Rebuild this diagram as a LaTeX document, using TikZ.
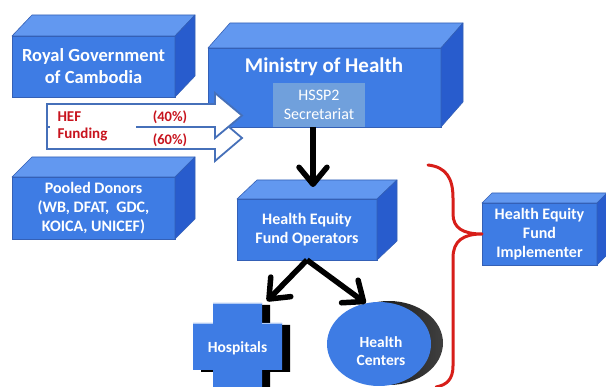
\documentclass[tikz,border=0pt]{standalone}
\usepackage{fontspec}
\setmainfont{Carlito}
\usetikzlibrary{arrows.meta,shapes.geometric,calc}

\definecolor{facefront}{RGB}{62,124,228}
\definecolor{facetop}{RGB}{98,152,240}
\definecolor{faceside}{RGB}{40,92,205}
\definecolor{faceedge}{RGB}{52,96,182}
\definecolor{panelblue}{RGB}{112,160,220}
\definecolor{flowedge}{RGB}{70,112,185}
\definecolor{fundred}{RGB}{200,20,30}
\definecolor{bracered}{RGB}{215,30,25}

\tikzset{
  front/.style={fill=facefront, draw=faceedge, line width=0.6pt, outer sep=0pt,
    inner sep=0pt, text=white, align=center,
    font=\bfseries\fontsize{16}{19}\selectfont},
  topface/.style={fill=facetop, draw=faceedge, line width=0.6pt, line join=round},
  sideface/.style={fill=faceside, draw=faceedge, line width=0.6pt, line join=round},
  fundarrow/.style={fill=white, draw=flowedge, line width=1.8pt, line join=miter},
  share/.style={text=fundred, font=\bfseries\fontsize{14.5}{17}\selectfont},
  flow/.style={draw=black, line width=5.5pt,
    -{Straight Barb[length=17pt,width=28pt,round]}},
  brace/.style={draw=bracered, line width=3pt, line cap=round, line join=round},
  whitelabel/.style={text=white, align=center, font=\bfseries\fontsize{15.5}{18}\selectfont},
}

% top and right faces of an extruded box, given its front node and the depth offset
\newcommand\extrudebox[3]{%
  \path[topface] (#1.north west) -- ++(#2,#3) -- ([shift={(#2,#3)}]#1.north east)
    -- (#1.north east) -- cycle;
  \path[sideface] (#1.north east) -- ++(#2,#3) -- ([shift={(#2,#3)}]#1.south east)
    -- (#1.south east) -- cycle;
}

\begin{document}
\begin{tikzpicture}[x=1pt, y=-1pt]
\useasboundingbox[fill=white] (0,0) rectangle (606,387);

% funding sources and ministry
\node[front, minimum width=163, minimum height=61,
  font=\bfseries\fontsize{18.5}{22}\selectfont] (rgc) at (93.5,66.5)
  {Royal Government\\of Cambodia};
\extrudebox{rgc}{20}{-21}

\node[front, minimum width=233, minimum height=79] (moh) at (324.5,87.5) {};
\extrudebox{moh}{22}{-25}
\node[whitelabel, font=\bfseries\fontsize{21}{24}\selectfont] (mohlabel) at (324,67)
  {Ministry of Health};
\node[fill=panelblue, minimum width=92, minimum height=44, inner sep=0pt,
  anchor=south, text=white, align=center,
  font=\fontsize{16}{19}\selectfont] (hssp) at (319,127) {HSSP2\\Secretariat};

\node[front, minimum width=163, minimum height=62] (pool) at (93.5,208)
  {Pooled Donors\\(WB, DFAT,\ \ GDC,\\KOICA, UNICEF)};
\extrudebox{pool}{20}{-20}

% operators and implementer
\node[front, minimum width=140, minimum height=61] (hefo) at (307,229.5)
  {Health Equity\\Fund Operators};
\extrudebox{hefo}{20}{-19}

\node[front, minimum width=115, minimum height=62] (impl) at (539.5,234)
  {Health Equity\\Fund\\Implementer};
\extrudebox{impl}{10}{-10}

% HEF funding block arrows (60% below, 40% on top)
\path[fundarrow] (47,127) -- (215,127) -- (215,115) -- (242,138) -- (215,161)
  -- (215,149) -- (47,149) -- cycle;
\path[fundarrow] (47,104) -- (215,104) -- (215,93) -- (242,115.5) -- (215,138)
  -- (215,127) -- (47,127) -- cycle;
\node[fill=white, text width=70, inner xsep=8pt, inner ysep=0pt, minimum height=40,
  align=left, text=fundred, font=\bfseries\fontsize{15}{17}\selectfont]
  (heftext) at (92.5,126.5) {HEF\\Funding};
\node[share] (pct40) at (170,117) {(40\%)};
\node[share] (pct60) at (170,140) {(60\%)};

% hospitals: cross with dark extrusion
\begin{scope}[shift={(8,2)}]
\fill[black] (213,303) -- (262,303) -- (262,323) -- (282,323) -- (282,370)
  -- (262,370) -- (262,400) -- (213,400) -- (213,370) -- (193,370) -- (193,323)
  -- (213,323) -- cycle;
\end{scope}
\fill[facefront] (213,303) -- (262,303) -- (262,323) -- (282,323) -- (282,370)
  -- (262,370) -- (262,400) -- (213,400) -- (213,370) -- (193,370) -- (193,323)
  -- (213,323) -- cycle;
\draw[white!60!facefront, line width=1pt] (213,303.5) -- (262,303.5)
  (193,323.5) -- (213,323.5) (262,323.5) -- (282,323.5);
\node[whitelabel] (hosp) at (237.5,348) {Hospitals};
\coordinate (hosptop) at (267,301);

% health centers: ellipse with dark rim
\node[ellipse, minimum width=108, minimum height=84, inner sep=0pt,
  left color=black, right color=black!75, draw=none] (hcrim) at (389,343) {};
\node[ellipse, minimum width=104, minimum height=84, inner sep=0pt,
  fill=facefront] (hc) at (379,344) {};
\node[whitelabel] (hclabel) at (381,351) {Health\\Centers};

% flow arrows
\coordinate (hefoin) at (313,187);
\draw[flow] (moh.south -| hefoin) -- (hefoin);
\draw[flow] (hefo.south) -- (hosptop);
\draw[flow] (hefo.south) -- (hc.108);

% brace grouping the implementers
\draw[brace] (428,165) .. controls (446,167) and (453,178) .. (453,198)
  -- (453,214) .. controls (453,228) and (463,234) .. (impl.west)
  .. controls (463,234) and (453,241) .. (453,258)
  -- (453,366) .. controls (453,379) and (447,385) .. (436,387);

\end{tikzpicture}
\end{document}
